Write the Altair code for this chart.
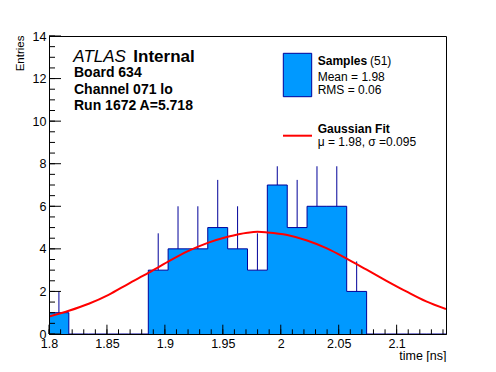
import altair as alt
import pandas as pd

# ---- data ----
bin_edges = [1.8, 1.8171, 1.8343, 1.8514, 1.8685, 1.8857, 1.9028, 1.9199, 1.9370,
             1.9542, 1.9713, 1.9884, 2.0056, 2.0227, 2.0398, 2.0569, 2.0741,
             2.0912, 2.1083, 2.1255, 2.1426]
counts = [1, 0, 0, 0, 0, 3, 4, 4, 5, 4, 3, 7, 5, 6, 6, 2, 0, 0, 0, 0]
err_top = [2.0, 0, 0, 0, 0, 4.73, 6.0, 6.0, 7.24, 6.0, 4.73, 7.88, 7.24, 7.88,
           7.88, 3.41, 0, 0, 0, 0]

fit_x = [1.8, 1.8171, 1.8343, 1.8514, 1.8685, 1.8857, 1.9028, 1.9199, 1.9370,
         1.9542, 1.9713, 1.98, 1.9884, 2.0056, 2.0227, 2.0398, 2.0569, 2.0741,
         2.0912, 2.1083, 2.1255, 2.1426]
fit_y = [0.82, 1.09, 1.42, 1.84, 2.36, 2.87, 3.40, 3.89, 4.28, 4.57, 4.76, 4.80,
         4.77, 4.65, 4.39, 4.02, 3.54, 3.02, 2.50, 2.00, 1.53, 1.17]

x_major = [1.8, 1.85, 1.9, 1.95, 2.0, 2.05, 2.1]
x_minor = [1.80, 1.81, 1.82, 1.83, 1.84, 1.85, 1.86, 1.87, 1.88, 1.89, 1.90,
           1.91, 1.92, 1.93, 1.94, 1.95, 1.96, 1.97, 1.98, 1.99, 2.00, 2.01,
           2.02, 2.03, 2.04, 2.05, 2.06, 2.07, 2.08, 2.09, 2.10, 2.11, 2.12,
           2.13, 2.14]
y_major = [0, 2, 4, 6, 8, 10, 12, 14]
y_minor = [0, 0.5, 1, 1.5, 2, 2.5, 3, 3.5, 4, 4.5, 5, 5.5, 6, 6.5, 7, 7.5, 8,
           8.5, 9, 9.5, 10, 10.5, 11, 11.5, 12, 12.5, 13, 13.5, 14]

W, H = 397, 298
FONT = "Liberation Sans"
FILL = "#0099ff"
NAVY = "#000099"

step_df = pd.DataFrame({"x": bin_edges, "y": counts + [counts[-1]]})
centers = [(a + b) / 2 for a, b in zip(bin_edges[:-1], bin_edges[1:])]
err_df = pd.DataFrame({"x": centers, "y": counts, "top": err_top})
err_df = err_df[err_df["y"] > 0]
fit_df = pd.DataFrame({"x": fit_x, "y": fit_y})

xs = alt.Scale(domain=[bin_edges[0], bin_edges[-1]], nice=False, zero=False)
ys = alt.Scale(domain=[0, 14], nice=False, zero=False)

x_axis = alt.Axis(values=x_major, format="~g", title="time [ns]", ticks=False,
                  tickSize=0, grid=False, domainColor="black", domainWidth=1,
                  labelFont=FONT, labelFontSize=12.5, labelColor="black",
                  labelPadding=3, labelFlush=False, labelOverlap=False,
                  titleFont=FONT, titleFontSize=12.5, titleFontWeight="normal",
                  titleColor="black", titleAnchor="end", titleAlign="right",
                  titleX=W, titleY=25, titleBaseline="alphabetic", zindex=1)
y_axis = alt.Axis(values=y_major, title="Entries", ticks=False, tickSize=0,
                  grid=False, domainColor="black", domainWidth=1,
                  labelFont=FONT, labelFontSize=12.5, labelColor="black",
                  labelPadding=3, labelOverlap=False, labelFlush=False,
                  titleFont=FONT, titleFontSize=11.5, titleFontWeight="normal",
                  titleColor="black", titleAlign="right", titleX=-26, titleY=-1,
                  titleBaseline="alphabetic", titleAngle=-90, zindex=1)

area = alt.Chart(step_df).mark_area(interpolate="step-after", color=FILL).encode(
    x=alt.X("x:Q", scale=xs, axis=x_axis),
    y=alt.Y("y:Q", scale=ys, axis=y_axis),
)
outline = alt.Chart(step_df).mark_line(interpolate="step-after", color=NAVY,
                                       strokeWidth=1).encode(
    x=alt.X("x:Q", scale=xs), y=alt.Y("y:Q", scale=ys))
errs = alt.Chart(err_df).mark_rule(color=NAVY, strokeWidth=1).encode(
    x=alt.X("x:Q", scale=xs), y=alt.Y("y:Q", scale=ys), y2="top:Q")
fit = alt.Chart(fit_df).mark_line(interpolate="monotone", color="#ff0000",
                                  strokeWidth=2, clip=True).encode(
    x=alt.X("x:Q", scale=xs), y=alt.Y("y:Q", scale=ys))

xmaj = alt.Chart(pd.DataFrame({"x": x_major})).mark_rule(color="black").encode(
    x=alt.X("x:Q", scale=xs), y=alt.value(H), y2=alt.value(H - 9.3))
xmin = alt.Chart(pd.DataFrame({"x": x_minor})).mark_rule(color="black").encode(
    x=alt.X("x:Q", scale=xs), y=alt.value(H), y2=alt.value(H - 4.7))
ymaj = alt.Chart(pd.DataFrame({"y": y_major})).mark_rule(color="black").encode(
    y=alt.Y("y:Q", scale=ys), x=alt.value(0), x2=alt.value(12))
ymin = alt.Chart(pd.DataFrame({"y": y_minor})).mark_rule(color="black").encode(
    y=alt.Y("y:Q", scale=ys), x=alt.value(0), x2=alt.value(6))

one = pd.DataFrame({"a": [0]})


def txt(s, x, y, size, weight="normal", style="normal"):
    return alt.Chart(one).mark_text(
        text=s, align="left", baseline="alphabetic", font=FONT, fontSize=size,
        fontWeight=weight, fontStyle=style, color="black"
    ).encode(x=alt.value(x), y=alt.value(y))


texts = [
    txt("ATLAS", 24.3, 25.7, 17, style="italic"),
    txt("Internal", 84.3, 25.7, 17, weight="bold"),
    txt("Board 634", 25, 41.3, 14, weight="bold"),
    txt("Channel 071 lo", 25, 57.5, 14, weight="bold"),
    txt("Run 1672 A=5.718", 25, 74, 14, weight="bold"),
    txt("Samples", 268.7, 29, 12, weight="bold"),
    txt("(51)", 321, 29, 12),
    txt("Mean = 1.98", 268.7, 44.7, 12),
    txt("RMS = 0.06", 268.7, 58, 12),
    txt("Gaussian Fit", 268.7, 96.7, 12, weight="bold"),
    txt("\u03bc = 1.98, \u03c3 =0.095", 268.7, 110, 12),
]

leg_box = alt.Chart(one).mark_rect(fill=FILL, stroke=NAVY, strokeWidth=1).encode(
    x=alt.value(234.3), x2=alt.value(262.7), y=alt.value(17.3), y2=alt.value(60.7))
leg_line = alt.Chart(one).mark_rule(color="#ff0000", strokeWidth=2).encode(
    x=alt.value(234), x2=alt.value(263), y=alt.value(99.7))

chart = alt.layer(area, outline, errs, fit, xmaj, xmin, ymaj, ymin,
                  leg_box, leg_line, *texts).properties(
    width=W, height=H,
    autosize=alt.AutoSizeParams(type="none"),
    padding={"left": 41, "top": 28, "right": 36, "bottom": 28},
    background="white",
).configure_view(stroke="black", strokeWidth=1)

chart.save("out.html", embed_options={"renderer": "svg", "actions": False})
